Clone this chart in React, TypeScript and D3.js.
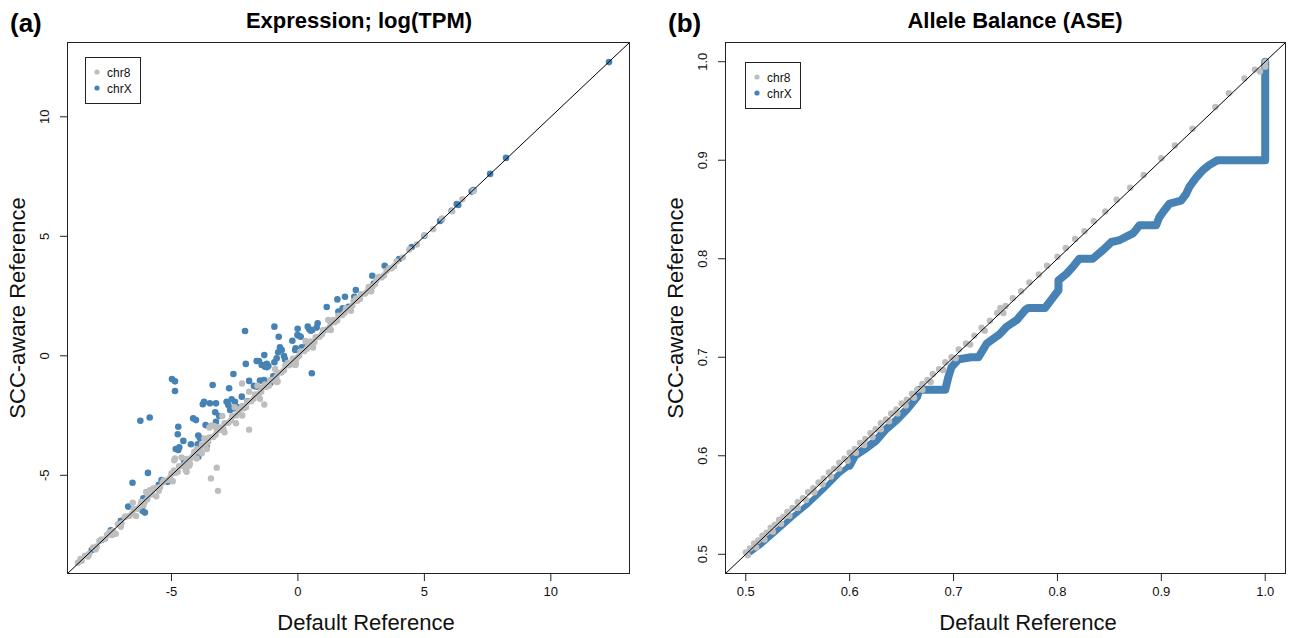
import * as d3 from "d3";

type Pt = [number, number];

const FONT = '"Liberation Sans", Arial, Helvetica, sans-serif';
const GREY = "#BEBEBE";
const BLUE = "#4682B4";

// (a) Expression; log(TPM) — [default reference, SCC-aware reference]
const exprLim: Pt = [-9.13, 13.13];
const exprTicks = [-5, 0, 5, 10];
const exprTickLabels = ["-5", "0", "5", "10"];

const exprChr8: Pt[] = [
  [-8.7, -8.66], [-8.55, -8.58], [-8.42, -8.36], [-8.25, -8.28], [-8.1, -8.02], [-7.95, -7.98],
  [-7.78, -7.7], [-7.62, -7.66], [-7.45, -7.38], [-7.3, -7.33], [-7.12, -7.05], [-6.97, -7.0],
  [-6.8, -6.72], [-6.66, -6.7], [-6.5, -6.42], [-6.35, -6.4], [-6.2, -6.12], [-6.05, -6.1],
  [-5.9, -5.82], [-5.75, -5.8], [-5.6, -5.52], [-5.45, -5.5], [-5.3, -5.22], [-5.15, -5.2],
  [-5.0, -4.92], [-4.85, -4.9], [-4.7, -4.62], [-4.55, -4.6], [-4.4, -4.32], [-4.25, -4.3],
  [-4.1, -4.02], [-3.95, -4.0], [-3.8, -3.72], [-3.65, -3.7], [-3.5, -3.42], [-3.35, -3.4],
  [-3.2, -3.12], [-3.05, -3.1], [-2.9, -2.82], [-2.75, -2.8], [-2.6, -2.52], [-2.45, -2.5],
  [-2.3, -2.22], [-2.15, -2.2], [-2.0, -1.92], [-1.85, -1.9], [-1.7, -1.62], [-1.55, -1.6],
  [-1.4, -1.32], [-1.25, -1.3], [-1.1, -1.02], [-0.95, -1.0], [-0.8, -0.72], [-0.65, -0.7],
  [-0.5, -0.42], [-0.35, -0.4], [-0.2, -0.12], [-0.05, -0.1], [0.1, 0.18], [0.25, 0.2],
  [0.4, 0.48], [0.55, 0.5], [0.7, 0.78], [0.85, 0.8], [1.0, 1.08], [1.15, 1.1],
  [1.3, 1.38], [1.45, 1.4], [1.6, 1.68], [1.75, 1.7], [1.9, 1.98], [2.05, 2.0],
  [2.2, 2.28], [2.35, 2.3], [2.5, 2.58], [2.65, 2.6], [2.8, 2.88], [2.95, 2.9],
  [3.1, 3.15], [3.3, 3.28], [3.5, 3.55], [3.7, 3.66], [3.9, 3.95], [4.15, 4.12],
  [4.4, 4.45], [4.7, 4.66], [5.0, 5.05], [5.35, 5.3], [5.7, 5.75], [6.1, 6.05],
  [6.5, 6.55], [6.95, 6.9],
  [-8.6, -8.5], [-8.3, -8.4], [-8.0, -8.1], [-7.85, -7.75], [-7.55, -7.5], [-7.35, -7.5],
  [-7.0, -7.15], [-6.85, -6.75], [-6.55, -6.6], [-6.25, -6.3], [-6.1, -6.25], [-5.95, -6.0],
  [-5.8, -5.7], [-5.5, -5.65], [-5.35, -5.3], [-5.05, -5.1], [-4.9, -4.8], [-4.75, -4.85],
  [-4.45, -4.5], [-4.15, -4.2], [-4.0, -3.9], [-3.85, -3.95], [-3.55, -3.6], [-3.25, -3.3],
  [-3.1, -3.0], [-2.95, -3.05], [-2.65, -2.7], [-2.35, -2.4], [-2.2, -2.1], [-2.05, -2.15],
  [-1.75, -1.8], [-1.45, -1.5], [-1.3, -1.2], [-1.15, -1.25], [-0.85, -0.9], [-0.55, -0.6],
  [-0.4, -0.3], [-0.25, -0.35], [0.05, 0.0], [0.35, 0.3], [0.5, 0.6], [0.65, 0.58],
  [0.95, 0.9], [1.25, 1.2], [1.4, 1.5], [1.55, 1.48], [1.85, 1.8], [2.15, 2.1],
  [2.3, 2.4], [2.45, 2.38], [2.75, 2.7], [3.05, 3.0], [3.2, 3.3], [3.4, 3.36],
  [3.6, 3.65], [3.8, 3.75],
  [-7.2, -7.45], [-6.4, -6.7], [-5.6, -5.88], [-4.95, -5.25], [-4.3, -4.6], [-3.6, -3.9],
  [-2.9, -3.2], [-2.2, -2.5], [-1.5, -1.8], [-0.8, -1.08], [-0.1, -0.38], [0.6, 0.35],
  [1.3, 1.08], [2.1, 1.88], [2.9, 2.7],
  [-6.0, -5.7], [-4.6, -4.25], [-3.3, -2.95], [-2.5, -2.15], [-1.6, -1.25], [-0.9, -0.55],
  [0.3, 0.62], [1.2, 1.5],
  [-2.21, -1.16], [-1.93, -1.5], [-1.33, -2.04], [-1.93, -3.09], [-3.21, -4.68], [-3.44, -5.13],
  [-3.16, -5.65], [-4.86, -4.3], [-4.89, -4.37], [-4.44, -4.78], [-4.4, -4.85], [-4.27, -4.53],
  [-6.53, -6.15], [-4.0, -4.3], [-3.8, -4.08], [-3.7, -3.46], [-3.5, -3.0], [-3.41, -2.91],
  [-2.99, -2.52], [-2.45, -2.82], [-0.97, -1.02], [-0.84, -1.1], [-5.85, -5.62], [-5.72, -5.55],
  [-0.08, -0.32],
];

const exprChrX: Pt[] = [
  [-4.98, -0.97], [-4.86, -1.07], [-4.86, -1.47], [-6.23, -2.72], [-5.86, -2.58], [-5.93, -4.9],
  [-6.54, -5.31], [-6.71, -6.31], [-6.11, -5.96], [-6.14, -6.49], [-6.05, -6.56], [-7.76, -7.71],
  [-8.09, -8.05], [-8.15, -8.13], [-5.39, -5.2], [-5.15, -5.27], [-4.73, -2.97], [-4.75, -3.28],
  [-4.53, -3.56], [-4.83, -3.9], [-4.69, -3.83], [-4.73, -3.94], [-4.14, -2.62], [-4.03, -2.69],
  [-4.23, -3.7], [-3.94, -3.34], [-3.87, -3.45], [-3.96, -3.7], [-3.61, -3.8], [-3.94, -4.22],
  [-3.76, -2.03], [-3.71, -1.93], [-3.48, -1.99], [-3.24, -1.99], [-3.27, -2.36], [-3.37, -1.22],
  [-3.65, -2.9], [-2.55, -0.76], [-2.72, -1.36], [-2.06, -0.34], [-2.82, -1.92], [-2.75, -2.06],
  [-2.62, -1.82], [-2.49, -1.92], [-2.55, -2.2], [-2.68, -2.27], [-2.42, -2.13], [-2.22, -1.71],
  [-1.93, -1.05], [-1.74, -1.26], [-1.54, -0.22], [-1.33, 0.03], [-1.43, -0.38], [-1.3, -0.46],
  [-1.17, -0.43], [-1.23, -0.34], [-1.5, -1.04], [-1.34, -1.01], [-1.1, -1.15], [-0.93, -0.27],
  [-0.78, 0.15], [-0.64, 0.24], [-0.71, 0.36], [-0.55, -0.01], [-0.22, 0.63], [-0.09, 0.31],
  [0.15, 0.24], [0.55, -0.73], [0.35, 0.49], [-2.09, 1.04], [-0.93, 1.22], [-0.76, 0.8],
  [-0.01, 1.13], [-0.02, 0.87], [0.11, 0.8], [0.39, 1.22], [0.45, 1.11], [0.51, 1.05],
  [0.78, 1.36], [0.74, 1.18], [1.14, 2.04], [1.56, 2.36], [1.86, 2.47], [1.6, 1.85],
  [1.77, 1.99], [2.29, 2.75], [2.23, 2.47], [2.94, 3.35], [3.43, 3.77], [5.62, 5.64],
  [5.69, 5.71], [6.08, 6.07], [6.34, 6.31], [6.28, 6.35], [6.94, 6.94], [6.87, 6.87],
  [7.6, 7.61], [8.23, 8.28], [12.3, 12.29],
  [-3.24, -2.76], [-3.11, -2.52], [-1.63, -0.22], [-1.23, -0.48], [-1.63, -1.29], [-0.51, -0.15],
  [-0.84, -0.1], [-0.11, 0.24], [0.15, 0.36], [0.04, 0.84], [0.57, 1.08], [-0.97, -0.85],
  [-7.4, -7.3], [-7.0, -6.9], [-5.5, -5.4], [-4.5, -4.4], [-2.0, -1.9], [0.5, 0.55],
  [1.0, 1.05], [2.0, 2.05], [3.0, 3.02], [4.0, 4.05], [4.5, 4.55], [5.0, 5.02],
];

// (b) Allele Balance (ASE)
const aseLim: Pt = [0.48, 1.02];
const aseTicks = [0.5, 0.6, 0.7, 0.8, 0.9, 1.0];
const aseTickLabels = ["0.5", "0.6", "0.7", "0.8", "0.9", "1.0"];

const aseChr8: Pt[] = [
  [0.5, 0.502], [0.504, 0.506], [0.508, 0.511], [0.512, 0.514], [0.516, 0.519], [0.52, 0.522],
  [0.524, 0.527], [0.528, 0.53], [0.532, 0.535], [0.536, 0.538], [0.54, 0.543], [0.545, 0.547],
  [0.55, 0.553], [0.555, 0.557], [0.56, 0.563], [0.565, 0.567], [0.57, 0.573], [0.575, 0.577],
  [0.58, 0.583], [0.585, 0.587], [0.59, 0.593], [0.595, 0.597], [0.6, 0.603], [0.605, 0.607],
  [0.61, 0.613], [0.615, 0.617], [0.62, 0.623], [0.625, 0.627], [0.63, 0.633], [0.635, 0.637],
  [0.64, 0.643], [0.645, 0.647], [0.65, 0.653], [0.655, 0.657], [0.66, 0.663], [0.665, 0.667],
  [0.67, 0.673], [0.675, 0.677], [0.68, 0.683], [0.686, 0.688], [0.692, 0.695], [0.698, 0.7],
  [0.705, 0.708], [0.712, 0.714], [0.72, 0.722], [0.727, 0.73], [0.735, 0.737], [0.742, 0.745],
  [0.745, 0.75], [0.75, 0.752], [0.757, 0.76], [0.765, 0.767], [0.773, 0.776], [0.782, 0.784],
  [0.79, 0.793], [0.8, 0.802], [0.808, 0.811], [0.817, 0.82], [0.826, 0.828], [0.835, 0.838],
  [0.846, 0.848], [0.857, 0.86], [0.87, 0.872], [0.883, 0.885], [0.9, 0.902], [0.913, 0.915],
  [0.93, 0.932], [0.952, 0.954], [0.965, 0.968], [0.98, 0.983], [0.99, 0.992], [0.995, 0.99],
  [1.0, 1.0], [1.0, 0.995],
  [0.502, 0.499], [0.51, 0.507], [0.518, 0.515], [0.526, 0.523], [0.534, 0.531], [0.542, 0.539],
  [0.55, 0.547], [0.558, 0.555], [0.566, 0.563], [0.574, 0.571], [0.582, 0.579], [0.59, 0.587],
  [0.598, 0.595], [0.606, 0.603], [0.614, 0.611], [0.622, 0.619], [0.63, 0.627], [0.638, 0.635],
  [0.646, 0.643], [0.654, 0.651], [0.662, 0.659], [0.67, 0.667], [0.678, 0.675], [0.69, 0.687],
  [0.702, 0.699], [0.716, 0.713], [0.73, 0.727], [0.748, 0.745],
];

// chrX ASE points are so dense they read as a continuous staircase; traced vertices
const aseChrX: Pt[] = [
  [0.502, 0.5], [0.515, 0.51], [0.53, 0.524], [0.545, 0.538], [0.56, 0.551], [0.575, 0.566],
  [0.59, 0.582], [0.6, 0.59], [0.605, 0.6], [0.615, 0.607], [0.625, 0.615], [0.635, 0.627],
  [0.645, 0.636], [0.655, 0.647], [0.665, 0.66], [0.667, 0.667], [0.692, 0.667], [0.695, 0.68],
  [0.698, 0.69], [0.705, 0.698], [0.717, 0.7], [0.724, 0.7], [0.732, 0.714], [0.744, 0.723],
  [0.751, 0.731], [0.761, 0.738], [0.769, 0.748], [0.772, 0.75], [0.788, 0.75], [0.796, 0.761],
  [0.801, 0.768], [0.801, 0.778], [0.809, 0.785], [0.815, 0.792], [0.821, 0.8], [0.834, 0.8],
  [0.844, 0.809], [0.852, 0.817], [0.86, 0.819], [0.873, 0.826], [0.879, 0.834], [0.895, 0.834],
  [0.898, 0.842], [0.902, 0.848], [0.908, 0.856], [0.919, 0.859], [0.924, 0.866], [0.927, 0.873],
  [0.934, 0.883], [0.94, 0.89], [0.946, 0.895], [0.954, 0.9], [1.0, 0.9], [1.0, 1.0],
];

const Panel = ({ id, x0, x1, y0, y1, lim, ticks, tickLabels, grey, blue, bluePath, title, titleX, xlabX, tag, tagX, legX, legY }: any) => {
  const x = d3.scaleLinear().domain(lim).range([x0, x1]);
  const y = d3.scaleLinear().domain(lim).range([y1, y0]);
  const cy = (y0 + y1) / 2;
  const line = d3.line<Pt>().x((d) => x(d[0])).y((d) => y(d[1]));
  const split = bluePath ? bluePath.findIndex((d: Pt) => d[0] >= 0.6) : 0;

  return (
    <g>
      <defs>
        <clipPath id={id}>
          <rect x={x0} y={y0} width={x1 - x0} height={y1 - y0} />
        </clipPath>
      </defs>
      <g clipPath={`url(#${id})`}>
        {blue &&
          blue.map((d: Pt, i: number) => (
            <circle key={"b" + i} cx={x(d[0])} cy={y(d[1])} r={3.3} fill={BLUE} />
          ))}
        {bluePath && (
          <>
            <path d={line(bluePath.slice(0, split + 1)) || ""} fill="none" stroke={BLUE} strokeWidth={5.5} strokeLinejoin="round" strokeLinecap="round" />
            <path d={line(bluePath.slice(split)) || ""} fill="none" stroke={BLUE} strokeWidth={8} strokeLinejoin="round" strokeLinecap="round" />
          </>
        )}
        {grey.map((d: Pt, i: number) => (
          <circle key={"g" + i} cx={x(d[0])} cy={y(d[1])} r={3.2} fill={GREY} />
        ))}
        <line x1={x(lim[0])} y1={y(lim[0])} x2={x(lim[1])} y2={y(lim[1])} stroke="#000" strokeWidth={1} />
      </g>
      <rect x={x0 + 0.5} y={y0 + 0.5} width={x1 - x0 - 1} height={y1 - y0 - 1} fill="none" stroke="#222" strokeWidth={1} />

      {/* x axis */}
      <line x1={x(ticks[0])} x2={x(ticks[ticks.length - 1])} y1={y1 - 0.5} y2={y1 - 0.5} stroke="#222" />
      {ticks.map((t: number, i: number) => (
        <g key={"xt" + i}>
          <line x1={x(t)} x2={x(t)} y1={y1} y2={y1 + 7} stroke="#222" />
          <text x={x(t)} y={y1 + 22} textAnchor="middle" fontSize={13} fontFamily={FONT} fill="#111">
            {tickLabels[i]}
          </text>
        </g>
      ))}
      {/* y axis */}
      <line x1={x0 + 0.5} x2={x0 + 0.5} y1={y(ticks[0])} y2={y(ticks[ticks.length - 1])} stroke="#222" />
      {ticks.map((t: number, i: number) => (
        <g key={"yt" + i}>
          <line x1={x0 - 7} x2={x0} y1={y(t)} y2={y(t)} stroke="#222" />
          <text x={x0 - 18} y={y(t)} textAnchor="middle" fontSize={13} fontFamily={FONT} fill="#111" transform={`rotate(-90, ${x0 - 18}, ${y(t)})`}>
            {tickLabels[i]}
          </text>
        </g>
      ))}

      <text x={xlabX} y={630} textAnchor="middle" fontSize={22} fontFamily={FONT} fill="#111">
        Default Reference
      </text>
      <text x={x0 - 42} y={cy} textAnchor="middle" fontSize={22} fontFamily={FONT} fill="#111" transform={`rotate(-90, ${x0 - 42}, ${cy})`}>
        SCC-aware Reference
      </text>
      <text x={titleX} y={28} textAnchor="middle" fontSize={22} fontWeight="bold" fontFamily={FONT} fill="#000">
        {title}
      </text>
      <text x={tagX} y={32} fontSize={26} fontWeight="bold" fontFamily={FONT} fill="#000">
        {tag}
      </text>

      {/* legend */}
      <rect x={legX + 0.5} y={legY + 0.5} width={55} height={46} fill="#fff" stroke="#222" />
      <circle cx={legX + 12} cy={legY + 15} r={2.6} fill={GREY} />
      <text x={legX + 22} y={legY + 19.5} fontSize={12} fontFamily={FONT} fill="#111">chr8</text>
      <circle cx={legX + 12} cy={legY + 31} r={2.6} fill={BLUE} />
      <text x={legX + 22} y={legY + 35.5} fontSize={12} fontFamily={FONT} fill="#111">chrX</text>
    </g>
  );
};

export default function App() {
  return (
    <svg width={1290} height={638} style={{ position: "absolute", left: 0, top: 0, background: "#fff" }}>
      <rect width={1290} height={638} fill="#fff" />
      <Panel
        id="clipA" x0={67} x1={630} y0={42} y1={574}
        lim={exprLim} ticks={exprTicks} tickLabels={exprTickLabels}
        grey={exprChr8} blue={exprChrX}
        title="Expression; log(TPM)" titleX={359} xlabX={366}
        tag="(a)" tagX={10} legX={85} legY={57}
      />
      <Panel
        id="clipB" x0={725} x1={1286} y0={42} y1={574}
        lim={aseLim} ticks={aseTicks} tickLabels={aseTickLabels}
        grey={aseChr8} bluePath={aseChrX}
        title="Allele Balance (ASE)" titleX={1015} xlabX={1028}
        tag="(b)" tagX={668} legX={745} legY={62}
      />
    </svg>
  );
}
